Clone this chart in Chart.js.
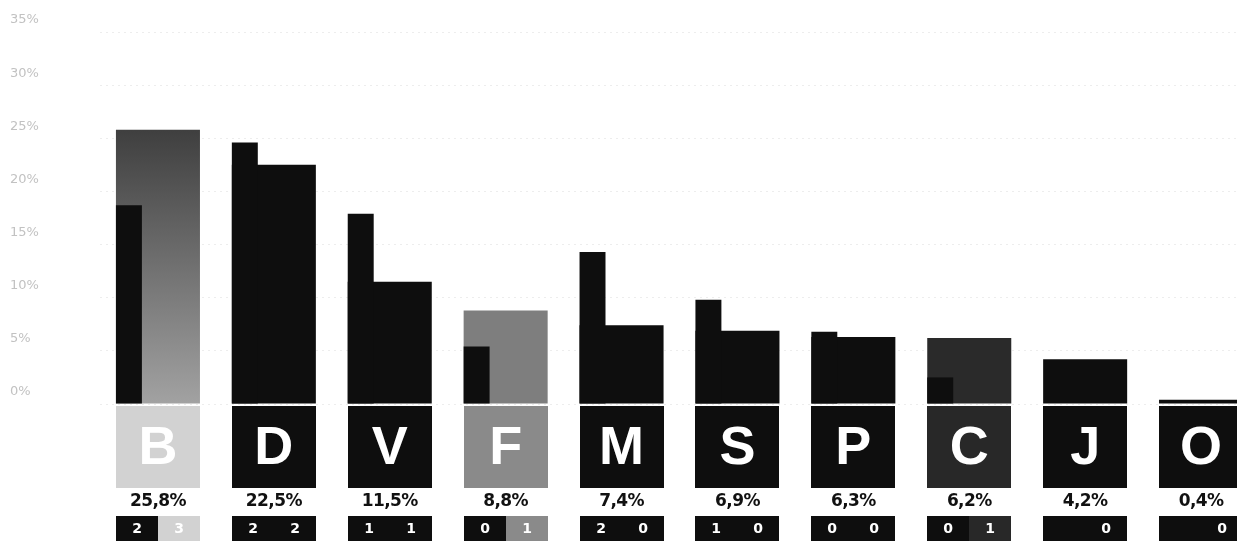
<!DOCTYPE html>
<html>
<head>
<meta charset="utf-8">
<script src="https://cdn.jsdelivr.net/npm/chart.js@4"></script>
<style>
  html, body { margin: 0; padding: 0; background: #fff; overflow: hidden; }
  #wrap { width: 1260px; height: 541px; }
</style>
</head>
<body>
<div id="wrap"><canvas id="BarVotes" width="1260" height="541"></canvas></div>
<script>
// party letters
var parties = ['B', 'D', 'V', 'F', 'M', 'S', 'P', 'C', 'J', 'O'];
// vote share, this election and last one (%)
var currentVotes = [25.8, 22.5, 11.5, 8.8, 7.4, 6.9, 6.3, 6.2, 4.2, 0.4];
var previousVotes = [18.7, 24.6, 17.9, 5.4, 14.3, 9.8, 6.8, 2.5, null, null];
// seats before / after
var seatsBefore = [2, 2, 1, 0, 2, 1, 0, 0, null, null];
var seatsAfter = [3, 2, 1, 1, 0, 0, 0, 1, 0, 0];
var yTicks = [0, 5, 10, 15, 20, 25, 30, 35];

var partyFill = {B: '#d2d2d2', F: '#8a8a8a', C: '#282828'};
var dark = '#0e0e0e';

var fmt = function (v) {
    return v.toFixed(1).replace('.', ',') + '%';
};

var currentColor = function (ctx) {
    var p = parties[ctx.dataIndex];
    if (p === 'B') {
        var area = ctx.chart.chartArea;
        if (!area) return '#6a6a6a';
        var g = ctx.chart.ctx.createLinearGradient(0, area.top + 90, 0, area.bottom);
        g.addColorStop(0, '#3c3c3c');
        g.addColorStop(1, '#a2a2a2');
        return g;
    }
    if (p === 'F') return '#7e7e7e';
    if (p === 'C') return '#2a2a2a';
    return dark;
};

// narrow bar sits on the left edge of the wide one, labels go under the axis
var underAxis = {
    id: 'underAxis',
    afterDatasetsUpdate: function (chart) {
        var prev = chart.getDatasetMeta(0).data;
        var cur = chart.getDatasetMeta(1).data;
        prev.forEach(function (el, i) {
            el.x = cur[i].x - cur[i].width / 2 + el.width / 2;
        });
    },
    afterDraw: function (chart) {
        var c = chart.ctx;
        var base = chart.scales.y.getPixelForValue(0);
        var cur = chart.getDatasetMeta(1).data;
        c.save();
        c.textAlign = 'center';
        c.textBaseline = 'middle';
        cur.forEach(function (el, i) {
            var p = parties[i];
            var left = Math.round(el.x - el.width / 2);
            var w = Math.round(el.width);
            var half = Math.round(w / 2);
            var fill = partyFill[p] || dark;

            // letter box
            var top = Math.round(base + 1.5);
            c.fillStyle = fill;
            c.fillRect(left, top, w, 82);
            c.fillStyle = '#fff';
            c.font = 'bold 54px "Liberation Sans"';
            c.fillText(p, el.x, top + 43);

            // vote share
            c.fillStyle = '#111';
            c.font = 'bold 17px "DejaVu Sans"';
            c.letterSpacing = '-0.6px';
            c.fillText(fmt(currentVotes[i]), el.x, top + 96);
            c.letterSpacing = '0px';

            // seats box
            var sy = top + 110;
            c.fillStyle = fill;
            c.fillRect(left, sy, w, 40);
            c.fillStyle = dark;
            c.fillRect(left, sy, half, 40);
            c.fillStyle = '#fff';
            c.font = 'bold 14px "DejaVu Sans"';
            if (seatsBefore[i] !== null) {
                c.fillText(String(seatsBefore[i]), left + w * 0.25, sy + 13);
            }
            c.fillText(String(seatsAfter[i]), left + w * 0.75, sy + 13);
        });
        c.restore();
    }
};

var ctxBar = document.getElementById('BarVotes').getContext('2d');
var BarVotesChart = new Chart(ctxBar, {
    type: 'bar',
    data: {
        labels: parties,
        datasets: [
            {
                label: 'previous',
                data: previousVotes,
                backgroundColor: dark,
                grouped: false,
                categoryPercentage: 1,
                barPercentage: 0.224
            },
            {
                label: 'current',
                data: currentVotes,
                backgroundColor: currentColor,
                grouped: false,
                categoryPercentage: 1,
                barPercentage: 0.725
            }
        ]
    },
    options: {
        responsive: false,
        animation: false,
        events: [],
        layout: {
            padding: {left: 10, right: 1, top: 32, bottom: 137}
        },
        plugins: {
            legend: {display: false},
            tooltip: {enabled: false}
        },
        scales: {
            x: {
                display: false
            },
            y: {
                min: 0,
                max: 35,
                afterBuildTicks: function (axis) {
                    axis.ticks = yTicks.map(function (v) { return {value: v}; });
                },
                afterFit: function (axis) {
                    axis.width = 90;
                },
                grid: {
                    color: 'rgba(0,0,0,0.07)',
                    drawTicks: false
                },
                border: {display: false, dash: [2, 4]},
                ticks: {
                    crossAlign: 'far',
                    labelOffset: -12,
                    padding: 0,
                    color: '#c2c2c2',
                    font: {family: 'DejaVu Sans', size: 13},
                    callback: function (v) { return v + '%'; }
                }
            }
        }
    },
    plugins: [underAxis]
});
</script>
</body>
</html>
